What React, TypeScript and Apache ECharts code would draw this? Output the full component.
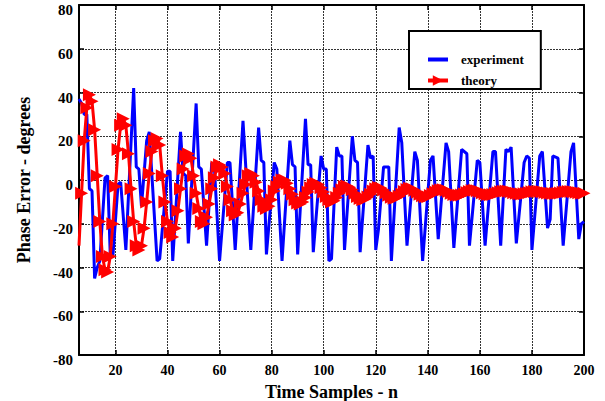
import React, { useEffect, useRef } from "react";
import * as echarts from "echarts";

const xTickValues = [20, 40, 60, 80, 100, 120, 140, 160, 180, 200];
const legendNames = ["experiment", "theory"];

// experiment (blue): sample index n and phase error (degrees)
const expN = [
  6, 7, 8, 9, 10, 11, 12, 13, 14, 16, 17, 18, 19, 21, 22, 24, 27, 28, 29, 30,
  32, 33, 36, 37, 40, 41, 42, 45, 46, 47, 48, 51, 52, 53, 55, 57, 58, 60, 63, 64,
  66, 69, 72, 75, 76, 77, 78, 81, 82, 84, 87, 88, 89, 90, 93, 94, 95, 96, 99, 100,
  101, 102, 103, 105, 106, 107, 108, 111, 112, 113, 114, 117, 118, 119, 120, 121, 123, 125, 126, 129,
  130, 132, 135, 136, 138, 141, 142, 144, 147, 148, 150, 153, 155, 156, 159, 160, 162, 165, 166, 168,
  170, 171, 172, 174, 177, 178, 179, 180, 183, 184, 186, 187, 188, 190, 192, 195, 196, 198, 199, 200,
];
const expV = [
  37, 35, 30, 30, -4, -5, -45, -40, -37, 1, 2, -34, -35, -2, -1, -32, 42, 6, 5, -12,
  18, 22, -37, -36, 4, 4, -37, 22, 3, 2, -29, 35, 6, 5, -30, 8, 6, -37, 8, 8,
  -32, 27, -32, 24, 9, 8, -34, 8, 5, -37, 18, 7, 6, -34, 28, 7, 7, -33, 11, 5,
  5, -37, -36, 15, 11, 11, -32, 20, 9, 8, -33, 16, 10, 11, -32, -23, 6, 6, -37, 24,
  17, -30, 13, 9, -37, 9, 11, -27, 17, 13, -31, 14, 12, -30, 9, 8, -30, 13, 13, -30,
  14, 13, 15, -29, 8, 11, 10, -32, 11, 13, -22, -18, 11, 10, -30, 13, 17, -27, -20, -19,
];

// theory (red): one value per sample, n = 6 .. 200
const theoryStartN = 6;
const theoryV = [
  -30, -6, 18, 33, 39, 36, 23, 2, -19, -35,
  -41, -42, -35, -20, -3, 14, 25, 28, 25, 12,
  -4, -19, -30, -32, -30, -22, -10, 3, 13, 18,
  19, 16, 2, -10, -19, -24, -26, -22, -14, -4,
  5, 11, 12, 10, 2, -6, -13, -19, -20, -17,
  -11, -4, 1, 6, 7, 6, 3, -3, -9, -14,
  -16, -15, -11, -6, -2, 2, 3, 2, -1, -5,
  -9, -12, -13, -12, -9, -5, -3, -1, 0, 0,
  -1.5, -4, -6.5, -9, -10.5, -11, -10, -8, -5.5, -3.5,
  -2, -1.5, -2, -3.5, -5.5, -7.5, -9, -10, -9.5, -8,
  -6, -4.5, -3, -2.7, -3.3, -4.5, -6, -7.5, -8.5, -9,
  -8.7, -7.8, -6.5, -5, -4, -3.4, -3.7, -4.6, -5.8, -7,
  -7.9, -8.3, -8.1, -7.4, -6.4, -5.3, -4.3, -3.8, -4, -4.7,
  -5.6, -6.5, -7.2, -7.6, -7.6, -7.1, -6.3, -5.5, -4.9, -4.5,
  -4.4, -4.7, -5.3, -6, -6.6, -6.9, -7, -6.8, -6.3, -5.7,
  -5.2, -4.8, -4.7, -4.9, -5.3, -5.8, -6.3, -6.6, -6.7, -6.6,
  -6.2, -5.8, -5.4, -5.1, -5, -5.1, -5.4, -5.8, -6.1, -6.3,
  -6.4, -6.3, -6, -5.7, -5.4, -5.2, -5.2, -5.2, -5.4, -5.7,
  -5.9, -6.1, -6.2, -6.2, -6.1, -5.9, -5.6, -5.4, -5.3, -5.3,
  -5.4, -5.6, -5.8, -6, -6.1,
];

const FONT = "'Liberation Serif', 'Times New Roman', serif";

export default function App() {
  const ref = useRef<HTMLDivElement>(null);
  useEffect(() => {
    const chart = echarts.init(ref.current!, null, { renderer: "svg" });
    const expData = expN.map((n, i) => [n, expV[i]]);
    const theoryData = theoryV.map((v, i) =>
      i === 0 ? { value: [theoryStartN + i, v], symbol: "none" } : [theoryStartN + i, v]
    );
    const frameLine = { show: true, onZero: false, lineStyle: { color: "#000", width: 2 } };
    const gridLine = { show: true, lineStyle: { color: "#333", width: 1, type: [2, 1] } };
    const tick = { show: true, inside: true, length: 5, lineStyle: { color: "#000", width: 1.5 } };
    const labelStyle = { fontFamily: FONT, fontWeight: "bold", color: "#000" };
    chart.setOption({
      animation: false,
      backgroundColor: "#fff",
      grid: { left: 79, right: 21, top: 5, bottom: 46, containLabel: false, outerBoundsMode: "none" },
      legend: {
        data: [
          {
            name: legendNames[0],
            itemStyle: { color: "rgba(0,0,0,0)", borderWidth: 0 },
            lineStyle: { width: 4, color: "#0000ff" },
          },
          { name: legendNames[1], lineStyle: { width: 4, color: "#ff0000" } },
        ],
        orient: "vertical",
        left: 409,
        top: 31,
        padding: [22, 17, 2, 17],
        itemGap: 8,
        itemWidth: 20,
        itemHeight: 13,
        backgroundColor: "#fff",
        borderColor: "#000",
        borderWidth: 2,
        borderRadius: 0,
        textStyle: { ...labelStyle, fontSize: 13, lineHeight: 13, padding: [0, 0, 0, 8] },
      },
      xAxis: [
        {
          type: "value",
          min: 6,
          max: 200,
          position: "bottom",
          name: "Time Samples - n",
          nameLocation: "middle",
          nameGap: 28,
          nameTextStyle: { ...labelStyle, fontSize: 18 },
          axisLine: frameLine,
          axisTick: { ...tick, customValues: xTickValues },
          axisLabel: { ...labelStyle, fontSize: 14, margin: 8, customValues: xTickValues },
          splitLine: gridLine,
        },
        {
          type: "value",
          min: 6,
          max: 200,
          position: "top",
          axisLine: frameLine,
          axisTick: { ...tick, customValues: xTickValues },
          axisLabel: { show: false, customValues: xTickValues },
          splitLine: { show: false },
        },
      ],
      yAxis: [
        {
          type: "value",
          min: -80,
          max: 80,
          interval: 20,
          position: "left",
          name: "Phase Error - degrees",
          nameLocation: "middle",
          nameGap: 46,
          nameTextStyle: { ...labelStyle, fontSize: 18 },
          axisLine: frameLine,
          axisTick: tick,
          axisLabel: {
            ...labelStyle,
            fontSize: 15,
            margin: 6,
            verticalAlign: "top",
            lineHeight: 10,
          },
          splitLine: gridLine,
        },
        {
          type: "value",
          min: -80,
          max: 80,
          interval: 20,
          position: "right",
          axisLine: frameLine,
          axisTick: tick,
          axisLabel: { show: false },
          splitLine: { show: false },
        },
      ],
      series: [
        {
          name: "experiment",
          type: "line",
          xAxisIndex: 0,
          yAxisIndex: 0,
          data: expData,
          showSymbol: false,
          symbol: "none",
          lineStyle: { color: "#0000ff", width: 3 },
          itemStyle: { color: "#0000ff" },
          z: 2,
        },
        {
          name: "theory",
          type: "line",
          xAxisIndex: 0,
          yAxisIndex: 0,
          data: theoryData,
          symbol: "triangle",
          symbolSize: 13,
          symbolRotate: -90,
          showSymbol: true,
          showAllSymbol: true,
          lineStyle: { color: "#ff0000", width: 3 },
          itemStyle: { color: "#ff0000" },
          z: 3,
        },
      ],
    });
    return () => chart.dispose();
  }, []);
  return (
    <div
      ref={ref}
      style={{ position: "fixed", left: 0, top: 0, width: 605, height: 401 }}
    />
  );
}
